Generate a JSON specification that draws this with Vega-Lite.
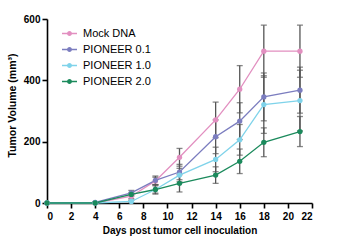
{
  "$schema": "https://vega.github.io/schema/vega-lite/v6.json",
  "width": 265,
  "height": 184,
  "autosize": {"type": "none"},
  "padding": {"left": 47, "top": 19, "right": 31, "bottom": 41},
  "background": "white",
  "config": {
    "view": {"stroke": null},
    "font": "Liberation Sans",
    "axis": {
      "grid": false,
      "domainColor": "black",
      "domainWidth": 1.6,
      "tickColor": "black",
      "tickWidth": 1.6,
      "tickSize": 5,
      "labelFont": "Liberation Sans",
      "labelFontWeight": "bold",
      "labelFontSize": 10,
      "labelColor": "black",
      "titleFont": "Liberation Sans",
      "titleFontWeight": "bold",
      "titleFontSize": 10,
      "titleColor": "black"
    }
  },
  "data": {
    "values": [
      {"series": "Mock DNA", "day": 0, "mean": 0, "lo": 0, "hi": 0},
      {"series": "Mock DNA", "day": 4, "mean": 0, "lo": 0, "hi": 0},
      {"series": "Mock DNA", "day": 7, "mean": 22, "lo": 14, "hi": 30},
      {"series": "Mock DNA", "day": 9, "mean": 72, "lo": 60, "hi": 84},
      {"series": "Mock DNA", "day": 11, "mean": 149, "lo": 120, "hi": 178},
      {"series": "Mock DNA", "day": 14, "mean": 271, "lo": 213, "hi": 329},
      {"series": "Mock DNA", "day": 16, "mean": 371, "lo": 294, "hi": 448},
      {"series": "Mock DNA", "day": 18, "mean": 495, "lo": 410, "hi": 580},
      {"series": "Mock DNA", "day": 21, "mean": 495, "lo": 410, "hi": 580},
      {"series": "PIONEER 0.1", "day": 0, "mean": 0, "lo": 0, "hi": 0},
      {"series": "PIONEER 0.1", "day": 4, "mean": 2, "lo": 0, "hi": 4},
      {"series": "PIONEER 0.1", "day": 7, "mean": 33, "lo": 25, "hi": 41},
      {"series": "PIONEER 0.1", "day": 9, "mean": 74, "lo": 60, "hi": 88},
      {"series": "PIONEER 0.1", "day": 11, "mean": 101, "lo": 76, "hi": 126},
      {"series": "PIONEER 0.1", "day": 14, "mean": 216, "lo": 161, "hi": 271},
      {"series": "PIONEER 0.1", "day": 16, "mean": 267, "lo": 207, "hi": 327},
      {"series": "PIONEER 0.1", "day": 18, "mean": 346, "lo": 268, "hi": 424},
      {"series": "PIONEER 0.1", "day": 21, "mean": 368, "lo": 293, "hi": 443},
      {"series": "PIONEER 1.0", "day": 0, "mean": 0, "lo": 0, "hi": 0},
      {"series": "PIONEER 1.0", "day": 4, "mean": 0, "lo": 0, "hi": 0},
      {"series": "PIONEER 1.0", "day": 7, "mean": 5, "lo": 1, "hi": 9},
      {"series": "PIONEER 1.0", "day": 9, "mean": 44, "lo": 32, "hi": 56},
      {"series": "PIONEER 1.0", "day": 11, "mean": 91, "lo": 69, "hi": 113},
      {"series": "PIONEER 1.0", "day": 14, "mean": 142, "lo": 102, "hi": 182},
      {"series": "PIONEER 1.0", "day": 16, "mean": 206, "lo": 156, "hi": 256},
      {"series": "PIONEER 1.0", "day": 18, "mean": 321, "lo": 227, "hi": 415},
      {"series": "PIONEER 1.0", "day": 21, "mean": 334, "lo": 235, "hi": 433},
      {"series": "PIONEER 2.0", "day": 0, "mean": 0, "lo": 0, "hi": 0},
      {"series": "PIONEER 2.0", "day": 4, "mean": 0, "lo": 0, "hi": 0},
      {"series": "PIONEER 2.0", "day": 7, "mean": 28, "lo": 22, "hi": 34},
      {"series": "PIONEER 2.0", "day": 9, "mean": 44, "lo": 29, "hi": 59},
      {"series": "PIONEER 2.0", "day": 11, "mean": 64, "lo": 36, "hi": 92},
      {"series": "PIONEER 2.0", "day": 14, "mean": 91, "lo": 64, "hi": 118},
      {"series": "PIONEER 2.0", "day": 16, "mean": 136, "lo": 96, "hi": 176},
      {"series": "PIONEER 2.0", "day": 18, "mean": 198, "lo": 151, "hi": 245},
      {"series": "PIONEER 2.0", "day": 21, "mean": 233, "lo": 184, "hi": 282}
    ]
  },
  "encoding": {
    "x": {
      "field": "day",
      "type": "quantitative",
      "scale": {"domain": [0, 22], "nice": false},
      "axis": {"values": [0, 2, 4, 6, 8, 10, 12, 14, 16, 18, 20, 22], "title": "Days post tumor cell inoculation", "titlePadding": 4, "labelPadding": 3}
    }
  },
  "layer": [
    {
      "mark": {"type": "errorbar", "color": "#555555", "thickness": 1.3, "ticks": {"size": 6, "color": "#555555"}},
      "encoding": {
        "y": {"field": "lo", "type": "quantitative", "scale": {"domain": [0, 600], "nice": false}, "title": "Tumor Volume (mm³)"},
        "y2": {"field": "hi"},
        "detail": {"field": "series", "type": "nominal"}
      }
    },
    {
      "mark": {"type": "line", "strokeWidth": 1.3, "point": {"filled": true, "size": 28, "opacity": 1}},
      "encoding": {
        "y": {
          "field": "mean",
          "type": "quantitative",
          "axis": {"values": [0, 200, 400, 600], "title": "Tumor Volume (mm³)", "labelPadding": 2, "titlePadding": 6, "titleFontSize": 10.5, "titleY": 86}
        },
        "color": {
          "field": "series",
          "type": "nominal",
          "sort": ["Mock DNA", "PIONEER 0.1", "PIONEER 1.0", "PIONEER 2.0"],
          "scale": {
            "domain": ["Mock DNA", "PIONEER 0.1", "PIONEER 1.0", "PIONEER 2.0"],
            "range": ["#e28fc0", "#7b7dbf", "#7fd3ea", "#1b8a5c"]
          },
          "legend": {
            "title": null,
            "orient": "none",
            "legendX": 15,
            "legendY": 7,
            "symbolType": "M-1,-0.09H1V0.09H-1Z M0.33,0A0.33,0.33 0 1,1 -0.33,0A0.33,0.33 0 1,1 0.33,0Z",
            "symbolSize": 225,
            "symbolStrokeWidth": 0,
            "rowPadding": 3,
            "labelFont": "Liberation Sans",
            "labelFontSize": 11,
            "labelColor": "black",
            "labelOffset": 6,
            "encode": {"symbols": {"update": {"fill": {"scale": "color", "field": "value"}, "fillOpacity": {"value": 1}}}}
          }
        },
        "order": {"field": "day", "type": "quantitative"}
      }
    }
  ]
}
